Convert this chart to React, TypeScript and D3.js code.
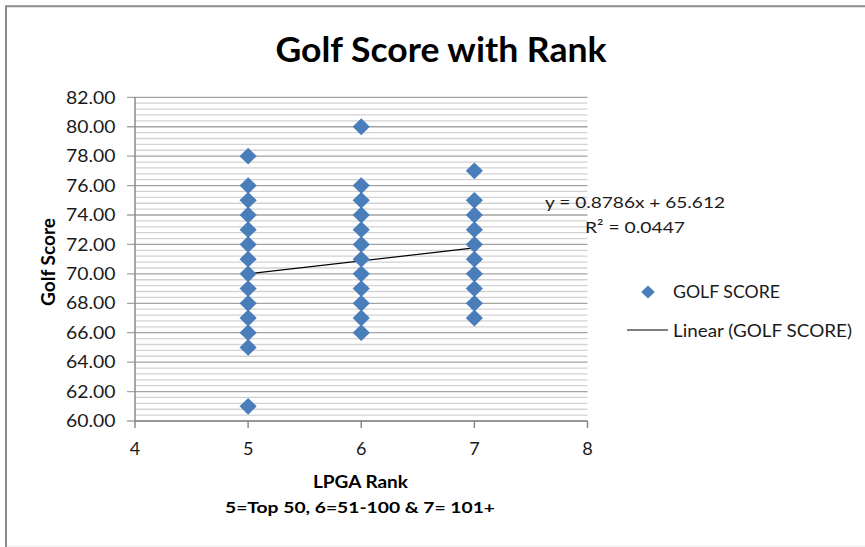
import React from "react";
import * as d3 from "d3";

// LPGA rank groups: 5 = Top 50, 6 = 51-100, 7 = 101+
const rankTop50Scores = [78, 76, 75, 74, 73, 72, 71, 70, 69, 68, 67, 66, 65, 61];
const rank51to100Scores = [80, 76, 75, 74, 73, 72, 71, 70, 69, 68, 67, 66];
const rank101PlusScores = [77, 75, 74, 73, 72, 71, 70, 69, 68, 67];
const rankValues = [5, 6, 7];

// Linear trend line reported for the series
const trendSlope = 0.8786;
const trendIntercept = 65.612;
const trendR2 = 0.0447;

const xTicks = [4, 5, 6, 7, 8];
const yTicks = [60, 62, 64, 66, 68, 70, 72, 74, 76, 78, 80, 82];
const yMinorStep = 0.4;

const W = 865;
const H = 547;
const FONT = "Lato, 'Open Sans', 'Noto Sans', sans-serif";
const MARKER = "#4a7ebb";

export default function App() {
  const x = d3.scaleLinear().domain([4, 8]).range([135, 587.5]);
  const y = d3.scaleLinear().domain([60, 82]).range([421, 97.3]);

  const points: { rank: number; score: number }[] = [];
  [rankTop50Scores, rank51to100Scores, rank101PlusScores].forEach((arr, i) =>
    arr.forEach((s) => points.push({ rank: rankValues[i], score: s }))
  );

  const minorTicks = d3
    .range(60, 82.0001, yMinorStep)
    .filter((v) => Math.abs(v / 2 - Math.round(v / 2)) > 1e-6);

  const diamond = (w: number, h: number) =>
    `M0,${-h}L${w},0L0,${h}L${-w},0Z`;

  const trend = d3
    .line<number>()
    .x((r) => x(r))
    .y((r) => y(trendSlope * r + trendIntercept));

  const fmt = d3.format(".2f");
  const [x0, x1] = x.range();

  return (
    <svg
      width={W}
      height={H}
      style={{ position: "absolute", left: 0, top: 0, background: "#fff" }}
      fontFamily={FONT}
    >
      {/* chart frame */}
      <line x1={6} x2={W} y1={546} y2={546} stroke="#ececec" strokeWidth={1} />
      <path d={`M6,${H}V6.3H${W}`} fill="none" stroke="#8c8c8c" strokeWidth={2} />

      {/* title */}
      <text x={441} y={62} textAnchor="middle" fontSize={35} fontWeight={700}
        textLength={331} lengthAdjust="spacingAndGlyphs" fill="#000">
        Golf Score with Rank
      </text>

      {/* minor gridlines */}
      {minorTicks.map((v) => (
        <line key={"m" + v} x1={x0} x2={x1} y1={y(v)} y2={y(v)}
          stroke="#d2d2d2" strokeWidth={1.3} />
      ))}
      {/* major gridlines with outer ticks */}
      {yTicks.map((v) => (
        <line key={"g" + v} x1={127} x2={x1} y1={y(v)} y2={y(v)}
          stroke="#a3a3a3" strokeWidth={1.3} />
      ))}

      {/* axes */}
      <line x1={x0} x2={x0} y1={y(82)} y2={y(60)} stroke="#8a8a8a" strokeWidth={1.5} />
      <line x1={x0} x2={x1} y1={y(60)} y2={y(60)} stroke="#8a8a8a" strokeWidth={1.5} />
      {xTicks.map((t) => (
        <line key={"xt" + t} x1={x(t)} x2={x(t)} y1={y(60)} y2={y(60) + 7}
          stroke="#8a8a8a" strokeWidth={1.5} />
      ))}

      {/* y tick labels */}
      {yTicks.map((v) => (
        <text key={"yl" + v} x={115.5} y={y(v) + 6.2} textAnchor="end" fontSize={17}
          textLength={49.5} lengthAdjust="spacingAndGlyphs" fill="#1a1a1a">
          {fmt(v)}
        </text>
      ))}

      {/* x tick labels */}
      {xTicks.map((t) => (
        <text key={"xl" + t} x={x(t)} y={455} textAnchor="middle" fontSize={17}
          textLength={10.5} lengthAdjust="spacingAndGlyphs" fill="#1a1a1a">
          {t}
        </text>
      ))}

      {/* axis titles */}
      <text transform="translate(54.5,262) rotate(-90)" textAnchor="middle" fontSize={18}
        fontWeight={700} textLength={88} lengthAdjust="spacingAndGlyphs" fill="#000">
        Golf Score
      </text>
      <text x={360.5} y={488.3} textAnchor="middle" fontSize={16.5} fontWeight={700}
        textLength={95} lengthAdjust="spacingAndGlyphs" fill="#000">
        LPGA Rank
      </text>
      <text x={360} y={513} textAnchor="middle" fontSize={16} fontWeight={700}
        textLength={270} lengthAdjust="spacingAndGlyphs" fill="#000">
        5=Top 50, 6=51-100 &amp; 7= 101+
      </text>

      {/* trend line */}
      <path d={trend([5, 7]) || ""} fill="none" stroke="#000" strokeWidth={1.2} />

      {/* data points */}
      {points.map((p, i) => (
        <path key={"p" + i} d={diamond(8.6, 8.4)}
          transform={`translate(${x(p.rank)},${y(p.score)})`} fill={MARKER} />
      ))}

      {/* trend equation */}
      <text x={545} y={208} fontSize={16} textLength={180}
        lengthAdjust="spacingAndGlyphs" fill="#1a1a1a">
        {`y = ${trendSlope}x + ${trendIntercept}`}
      </text>
      <text x={585} y={233.3} fontSize={16} textLength={100}
        lengthAdjust="spacingAndGlyphs" fill="#1a1a1a">
        {`R² = ${trendR2}`}
      </text>

      {/* legend */}
      <path d={diamond(6.8, 6.6)} transform="translate(648,292)" fill={MARKER} />
      <text x={673} y={298.3} fontSize={16.5} textLength={107}
        lengthAdjust="spacingAndGlyphs" fill="#1a1a1a">
        GOLF SCORE
      </text>
      <line x1={627} x2={668} y1={330} y2={330} stroke="#000" strokeWidth={1.2} />
      <text x={673} y={336.7} fontSize={16.5} textLength={179}
        lengthAdjust="spacingAndGlyphs" fill="#1a1a1a">
        Linear (GOLF SCORE)
      </text>
    </svg>
  );
}
